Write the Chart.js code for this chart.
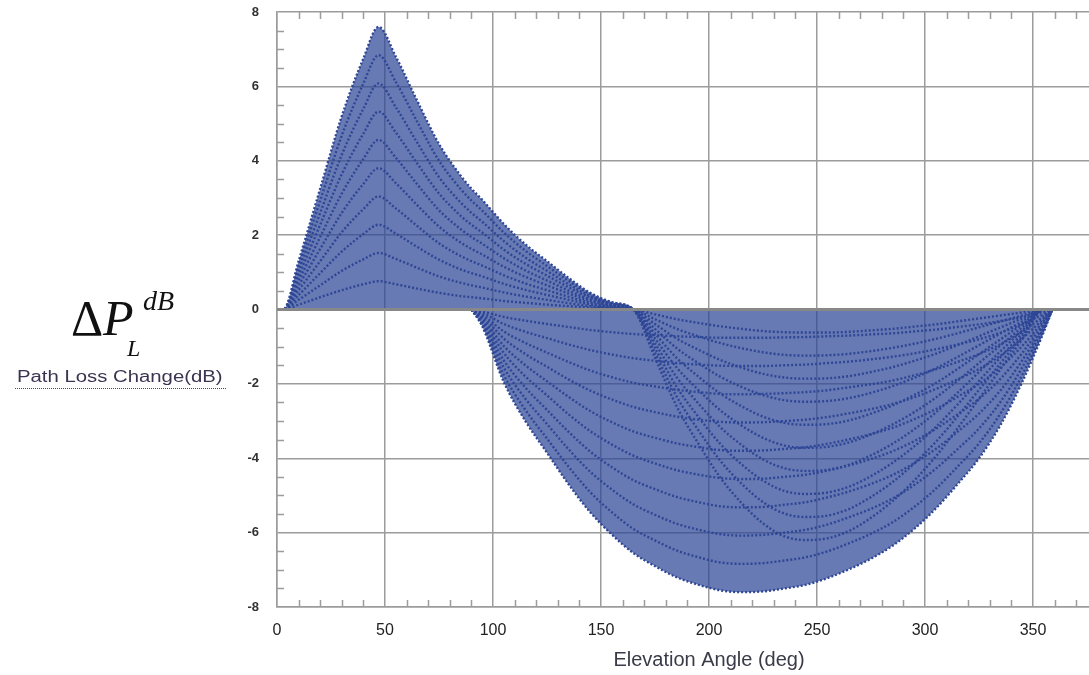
<!DOCTYPE html>
<html>
<head>
<meta charset="utf-8">
<script src="https://cdn.jsdelivr.net/npm/chart.js@4.4.1/dist/chart.umd.min.js"></script>
<style>
  html, body { margin: 0; padding: 0; background: #fff; overflow: hidden; }
  #wrap { position: relative; width: 1089px; height: 675px; overflow: hidden; }
  #plot { position: absolute; left: 0; top: 0; }
  .sym { position: absolute; font-family: "Liberation Serif", "Times New Roman", serif; color: #111; white-space: nowrap; }
  #legendText { position: absolute; left: 17px; top: 369px; font-family: "Liberation Sans", Arial, sans-serif; font-size: 16px; line-height: 16px; color: #3b3450; transform: scaleX(1.27); transform-origin: left top; white-space: nowrap; }
  #legendLine { position: absolute; left: 15px; top: 388px; width: 211px; border-top: 1px dotted #2e4696; }
</style>
</head>
<body>
<div id="wrap">
  <canvas id="plot" width="1161" height="675"></canvas>
  <span class="sym" style="left:71px; top:293px; font-size:50px; line-height:50px;">Δ</span>
  <span class="sym" style="left:103px; top:293px; font-size:50px; line-height:50px; font-style:italic;">P</span>
  <span class="sym" style="left:127px; top:336px; font-size:24px; line-height:24px; font-style:italic;">L</span>
  <span class="sym" style="left:143px; top:287px; font-size:28px; line-height:28px; font-style:italic;">dB</span>
  <div id="legendText">Path Loss Change(dB)</div>
  <div id="legendLine"></div>
</div>
<script>
// angulos de elevacion (grados)
const angles = [0, 3, 10, 20, 30, 40, 47, 55, 65, 75, 85, 90, 95, 105, 115, 125, 135, 145, 155, 165,
  175, 185, 195, 205, 215, 225, 235, 245, 255, 265, 275, 285, 295, 305, 315, 325, 335, 345, 355, 359];
const anglesLow = [90, 95, 105, 115, 125, 135, 145, 155, 165, 175, 185, 195, 205, 215, 225, 235, 245,
  255, 265, 275, 285, 295, 305, 315, 325, 335, 345, 355, 359];

const xTicks = [0, 50, 100, 150, 200, 250, 300, 350];
const yTicks = [-8, -6, -4, -2, 0, 2, 4, 6, 8];

// curvas con cruce tardio (~165 deg)
const late100 = [0, 0, 1.3, 3.25, 5.2, 6.75, 7.6, 6.8, 5.6, 4.45, 3.6, 3.25, 2.95, 2.3, 1.75, 1.3, 0.85, 0.45, 0.2, 0,
  -1.3, -2.6, -3.6, -4.5, -5.2, -5.75, -6.1, -6.2, -6.15, -5.95, -5.6, -5.15, -4.6, -3.95, -3.2, -2.4, -1.6, -0.8, 0, 0];
const late90 = [0, 0, 1.17, 2.93, 4.68, 6.08, 6.84, 6.12, 5.04, 4.0, 3.24, 2.93, 2.66, 2.07, 1.58, 1.17, 0.77, 0.41, 0.18, 0,
  -1.17, -2.34, -3.24, -4.05, -4.68, -5.18, -5.49, -5.58, -5.54, -5.36, -5.04, -4.64, -4.14, -3.56, -2.88, -2.16, -1.44, -0.72, 0, 0];
const late80 = [0, 0, 1.04, 2.6, 4.16, 5.4, 6.08, 5.44, 4.48, 3.56, 2.88, 2.6, 2.36, 1.84, 1.4, 1.04, 0.68, 0.36, 0.16, 0,
  -1.04, -2.08, -2.88, -3.6, -4.16, -4.6, -4.88, -4.96, -4.92, -4.76, -4.48, -4.12, -3.68, -3.16, -2.56, -1.92, -1.28, -0.64, 0, 0];
const late70 = [0, 0, 0.91, 2.28, 3.64, 4.73, 5.32, 4.76, 3.92, 3.12, 2.52, 2.28, 2.07, 1.61, 1.23, 0.91, 0.6, 0.32, 0.14, 0,
  -0.91, -1.82, -2.52, -3.15, -3.64, -4.03, -4.27, -4.34, -4.31, -4.17, -3.92, -3.61, -3.22, -2.77, -2.24, -1.68, -1.12, -0.56, 0, 0];
const late60 = [0, 0, 0.78, 1.95, 3.12, 4.05, 4.56, 4.08, 3.36, 2.67, 2.16, 1.95, 1.77, 1.38, 1.05, 0.78, 0.51, 0.27, 0.12, 0,
  -0.78, -1.56, -2.16, -2.7, -3.12, -3.45, -3.66, -3.72, -3.69, -3.57, -3.36, -3.09, -2.76, -2.37, -1.92, -1.44, -0.96, -0.48, 0, 0];
const late50 = [0, 0, 0.65, 1.63, 2.6, 3.38, 3.8, 3.4, 2.8, 2.23, 1.8, 1.63, 1.48, 1.15, 0.88, 0.65, 0.43, 0.23, 0.1, 0,
  -0.65, -1.3, -1.8, -2.25, -2.6, -2.88, -3.05, -3.1, -3.08, -2.98, -2.8, -2.58, -2.3, -1.98, -1.6, -1.2, -0.8, -0.4, 0, 0];
const late40 = [0, 0, 0.52, 1.3, 2.08, 2.7, 3.04, 2.72, 2.24, 1.78, 1.44, 1.3, 1.18, 0.92, 0.7, 0.52, 0.34, 0.18, 0.08, 0,
  -0.52, -1.04, -1.44, -1.8, -2.08, -2.3, -2.44, -2.48, -2.46, -2.38, -2.24, -2.06, -1.84, -1.58, -1.28, -0.96, -0.64, -0.32, 0, 0];
const late30 = [0, 0, 0.39, 0.98, 1.56, 2.03, 2.28, 2.04, 1.68, 1.34, 1.08, 0.98, 0.89, 0.69, 0.53, 0.39, 0.26, 0.14, 0.06, 0,
  -0.39, -0.78, -1.08, -1.35, -1.56, -1.73, -1.83, -1.86, -1.85, -1.79, -1.68, -1.55, -1.38, -1.19, -0.96, -0.72, -0.48, -0.24, 0, 0];
const late20 = [0, 0, 0.26, 0.65, 1.04, 1.35, 1.52, 1.36, 1.12, 0.89, 0.72, 0.65, 0.59, 0.46, 0.35, 0.26, 0.17, 0.09, 0.04, 0,
  -0.26, -0.52, -0.72, -0.9, -1.04, -1.15, -1.22, -1.24, -1.23, -1.19, -1.12, -1.03, -0.92, -0.79, -0.64, -0.48, -0.32, -0.16, 0, 0];
const late10 = [0, 0, 0.13, 0.33, 0.52, 0.68, 0.76, 0.68, 0.56, 0.45, 0.36, 0.33, 0.3, 0.23, 0.18, 0.13, 0.09, 0.05, 0.02, 0,
  -0.13, -0.26, -0.36, -0.45, -0.52, -0.58, -0.61, -0.62, -0.62, -0.6, -0.56, -0.52, -0.46, -0.4, -0.32, -0.24, -0.16, -0.08, 0, 0];

// curvas con cruce temprano (~90 deg)
const early100 = [0, -0.45, -1.95, -3.0, -3.85, -4.7, -5.45, -6.05, -6.55, -6.9, -7.2, -7.4, -7.55, -7.6, -7.58, -7.5, -7.4,
  -7.22, -6.98, -6.7, -6.35, -5.9, -5.35, -4.7, -4.0, -3.1, -1.95, -0.6, 0];
const early90 = [0, -0.41, -1.76, -2.7, -3.47, -4.23, -4.91, -5.45, -5.9, -6.21, -6.48, -6.66, -6.8, -6.84, -6.82, -6.75, -6.66,
  -6.5, -6.28, -6.03, -5.72, -5.31, -4.82, -4.23, -3.6, -2.79, -1.76, -0.54, 0];
const early80 = [0, -0.36, -1.56, -2.4, -3.08, -3.76, -4.36, -4.84, -5.24, -5.52, -5.76, -5.92, -6.04, -6.08, -6.06, -6.0, -5.92,
  -5.78, -5.58, -5.36, -5.08, -4.72, -4.28, -3.76, -3.2, -2.48, -1.56, -0.48, 0];
const early70 = [0, -0.32, -1.37, -2.1, -2.7, -3.29, -3.82, -4.24, -4.59, -4.83, -5.04, -5.18, -5.29, -5.32, -5.31, -5.25, -5.18,
  -5.05, -4.89, -4.69, -4.45, -4.13, -3.75, -3.29, -2.8, -2.17, -1.37, -0.42, 0];
const early60 = [0, -0.27, -1.17, -1.8, -2.31, -2.82, -3.27, -3.63, -3.93, -4.14, -4.32, -4.44, -4.53, -4.56, -4.55, -4.5, -4.44,
  -4.33, -4.19, -4.02, -3.81, -3.54, -3.21, -2.82, -2.4, -1.86, -1.17, -0.36, 0];
const early50 = [0, -0.23, -0.98, -1.5, -1.93, -2.35, -2.73, -3.03, -3.28, -3.45, -3.6, -3.7, -3.78, -3.8, -3.79, -3.75, -3.7,
  -3.61, -3.49, -3.35, -3.18, -2.95, -2.68, -2.35, -2.0, -1.55, -0.98, -0.3, 0];
const early40 = [0, -0.18, -0.78, -1.2, -1.54, -1.88, -2.18, -2.42, -2.62, -2.76, -2.88, -2.96, -3.02, -3.04, -3.03, -3.0, -2.96,
  -2.89, -2.79, -2.68, -2.54, -2.36, -2.14, -1.88, -1.6, -1.24, -0.78, -0.24, 0];
const early30 = [0, -0.14, -0.59, -0.9, -1.16, -1.41, -1.64, -1.82, -1.97, -2.07, -2.16, -2.22, -2.27, -2.28, -2.27, -2.25, -2.22,
  -2.17, -2.09, -2.01, -1.91, -1.77, -1.61, -1.41, -1.2, -0.93, -0.59, -0.18, 0];
const early20 = [0, -0.09, -0.39, -0.6, -0.77, -0.94, -1.09, -1.21, -1.31, -1.38, -1.44, -1.48, -1.51, -1.52, -1.52, -1.5, -1.48,
  -1.44, -1.4, -1.34, -1.27, -1.18, -1.07, -0.94, -0.8, -0.62, -0.39, -0.12, 0];
const early10 = [0, -0.05, -0.2, -0.3, -0.39, -0.47, -0.55, -0.61, -0.66, -0.69, -0.72, -0.74, -0.76, -0.76, -0.76, -0.75, -0.74,
  -0.72, -0.7, -0.67, -0.64, -0.59, -0.54, -0.47, -0.4, -0.31, -0.2, -0.06, 0];

const lateCurves = [late100, late90, late80, late70, late60, late50, late40, late30, late20, late10];
const earlyCurves = [early100, early90, early80, early70, early60, early50, early40, early30, early20, early10];

const BLUE = '#2e4696';
const AREA = 'rgba(46,70,150,0.72)';
const GRID = '#9c9c9c';

function makeSet(xs, ys, fill) {
  return {
    data: xs.map((a, i) => ({ x: a, y: ys[i] })),
    borderColor: BLUE,
    borderWidth: 2.4,
    borderDash: [2, 2],
    pointRadius: 0,
    cubicInterpolationMode: 'monotone',
    fill: fill || false
  };
}

const datasets = [];
lateCurves.forEach((c, i) => {
  datasets.push(makeSet(angles, c, i === 0 ? { target: 'origin', above: AREA, below: 'rgba(0,0,0,0)' } : false));
});
earlyCurves.forEach((c, i) => {
  datasets.push(makeSet(anglesLow, c, i === 0 ? { target: 'origin', above: 'rgba(0,0,0,0)', below: AREA } : false));
});

// ticks menores y linea de cero
const axisExtras = {
  id: 'axisExtras',
  beforeDatasetsDraw(chart) {
    const { ctx, chartArea: a, scales: { x, y } } = chart;
    ctx.save();
    ctx.strokeStyle = GRID;
    ctx.lineWidth = 1.5;
    ctx.beginPath();
    for (let v = 10; v < 400; v += 10) {
      if (v % 50 === 0) continue;
      const px = Math.round(x.getPixelForValue(v)) + 0.5;
      ctx.moveTo(px, a.bottom); ctx.lineTo(px, a.bottom - 7);
      ctx.moveTo(px, a.top); ctx.lineTo(px, a.top + 7);
    }
    for (let v = -7.5; v < 8; v += 0.5) {
      if (v % 2 === 0) continue;
      const py = Math.round(y.getPixelForValue(v)) + 0.5;
      ctx.moveTo(a.left, py); ctx.lineTo(a.left + 7, py);
    }
    ctx.stroke();
    ctx.restore();
  },
  afterDatasetsDraw(chart) {
    const { ctx, chartArea: a, scales: { y } } = chart;
    const py = y.getPixelForValue(0);
    ctx.save();
    ctx.strokeStyle = '#888888';
    ctx.lineWidth = 3;
    ctx.beginPath();
    ctx.moveTo(a.left, py); ctx.lineTo(a.right, py);
    ctx.stroke();
    ctx.restore();
  }
};

new Chart(document.getElementById('plot').getContext('2d'), {
  type: 'line',
  data: { datasets },
  plugins: [axisExtras],
  options: {
    responsive: false,
    animation: false,
    devicePixelRatio: 1,
    layout: { padding: { left: 0, right: 20, top: 12, bottom: 0 } },
    plugins: {
      legend: { display: false },
      tooltip: { enabled: false },
      filler: { drawTime: 'beforeDatasetsDraw' }
    },
    scales: {
      x: {
        type: 'linear',
        min: 0,
        max: 400,
        afterBuildTicks: s => { s.ticks = xTicks.map(v => ({ value: v })); },
        afterFit: s => { s.height = 68; s.paddingLeft = 0; s.paddingRight = 0; s.paddingTop = 0; s.paddingBottom = 0; },
        grid: { color: GRID, lineWidth: 1.5, drawTicks: false },
        border: { color: GRID, width: 1.5 },
        ticks: {
          padding: 14,
          autoSkip: false,
          maxRotation: 0,
          color: '#222',
          font: { family: '"Liberation Sans", Arial, sans-serif', size: 16 }
        },
        title: {
          display: true,
          text: 'Elevation Angle (deg)',
          color: '#3a3a48',
          font: { family: '"Liberation Sans", Arial, sans-serif', size: 20 },
          padding: { top: 0, bottom: 3 }
        }
      },
      y: {
        min: -8,
        max: 8,
        afterBuildTicks: s => { s.ticks = yTicks.map(v => ({ value: v })); },
        afterFit: s => { s.width = 277; s.paddingTop = 0; s.paddingBottom = 0; s.paddingLeft = 0; s.paddingRight = 0; },
        grid: { color: GRID, lineWidth: 1.5, drawTicks: false },
        border: { color: GRID, width: 1.5 },
        ticks: {
          padding: 18,
          color: '#333',
          font: { family: '"Liberation Sans", Arial, sans-serif', size: 13, weight: 'bold' }
        }
      }
    }
  }
});
</script>
</body>
</html>
